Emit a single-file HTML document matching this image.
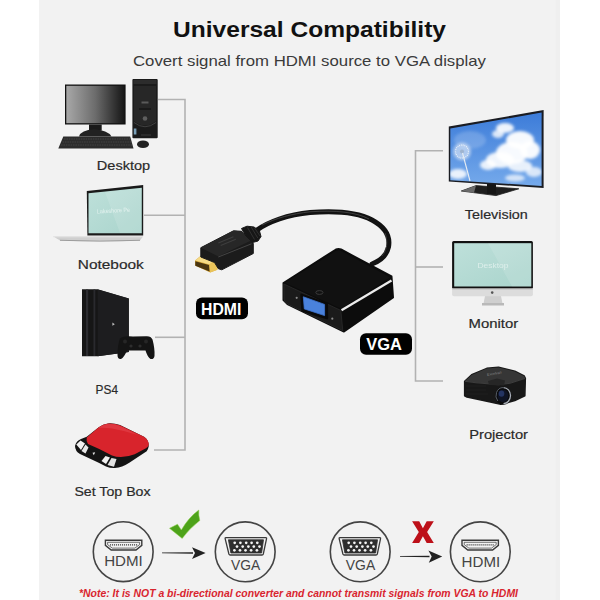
<!DOCTYPE html>
<html><head><meta charset="utf-8">
<style>
html,body{margin:0;padding:0;background:#fff;width:600px;height:600px;overflow:hidden}
svg{display:block}
text{font-family:"Liberation Sans",sans-serif}
</style></head>
<body>
<svg width="600" height="600" viewBox="0 0 600 600">
<defs>
  <linearGradient id="monG" x1="0" y1="0" x2="1" y2="0">
    <stop offset="0" stop-color="#a8a8a8"/><stop offset="0.5" stop-color="#6c6c6c"/><stop offset="1" stop-color="#161616"/>
  </linearGradient>
  <linearGradient id="skyG" x1="0" y1="0" x2="0" y2="1">
    <stop offset="0" stop-color="#3a7ad8"/><stop offset="1" stop-color="#78acec"/>
  </linearGradient>
  <linearGradient id="tealG" x1="0" y1="0" x2="1" y2="1">
    <stop offset="0" stop-color="#bee0da"/><stop offset="1" stop-color="#a9d4cc"/>
  </linearGradient>
  <filter id="blur1" x="-30%" y="-30%" width="160%" height="160%"><feGaussianBlur stdDeviation="1.8"/></filter>
</defs>
<rect x="0" y="0" width="600" height="600" fill="#fff"/>
<rect x="39" y="0" width="521" height="600" fill="#f2f2f2"/>
<rect x="555.5" y="0" width="4.5" height="600" fill="#efefef"/>

<!-- Title -->
<text x="173" y="37.3" font-size="22.6" font-weight="bold" fill="#111" textLength="273" lengthAdjust="spacingAndGlyphs">Universal Compatibility</text>
<text x="133" y="66" font-size="14.5" fill="#3a3a3a" textLength="353" lengthAdjust="spacingAndGlyphs">Covert signal from HDMI source to VGA display</text>

<!-- connector lines -->
<g stroke="#b2b2b2" stroke-width="1.6" fill="none">
  <path d="M158 99.5H185V450H154"/>
  <path d="M144 215.3H185"/>
  <path d="M155 337.3H185"/>
  <path d="M443 150.8H415.5V381H443"/>
  <path d="M415.5 267H443"/>
</g>

<!-- Desktop -->
<g>
  <rect x="65" y="84.5" width="60.6" height="40" fill="#111"/>
  <rect x="66.3" y="85.8" width="58" height="37.4" fill="url(#monG)"/>
  <rect x="89" y="124.5" width="12.7" height="6" fill="#1a1a1a"/>
  <path d="M79 136.5Q81 130 94 129.3Q107.5 130 111.5 136.5Z" fill="#222"/>
  <path d="M63.3 136.4H130.2L133.5 148.4H58.3Z" fill="#2c2c2c"/>
  <path d="M64 139H130.5M62.5 142H131.5M61 145H132.4" stroke="#4a4a4a" stroke-width="0.8" stroke-dasharray="1.6 0.8"/>
  <rect x="132.4" y="79" width="25.3" height="59.3" rx="1" fill="#1b1b1b"/>
  <rect x="133.5" y="80" width="23" height="4" fill="#2c2c2c"/>
  <path d="M134 86H156V121Q145 130 134 121Z" fill="#272727"/>
  <rect x="141.5" y="101.5" width="7" height="2" fill="#5a5a5a"/>
  <rect x="139" y="108" width="12" height="2" fill="#1a1a1a"/>
  <circle cx="145" cy="118.5" r="2.3" fill="#5e5e5e"/>
  <path d="M134 122.5Q145 131 156 122.5" stroke="#4a4a4a" stroke-width="0.8" fill="none"/>
  <rect x="133.8" y="128.5" width="2.6" height="6" fill="#7aa0b8"/>
  <rect x="141" y="134.5" width="10" height="1" fill="#3a3a3a"/>
  <ellipse cx="143" cy="144.3" rx="6" ry="3.8" fill="#222"/>
</g>

<!-- Notebook -->
<g>
  <path d="M86.8 191L143.2 185.1V235.6H87.4Z" fill="#1a1a1a"/>
  <path d="M88.5 193.2L141.8 187.7V233.2H88.5Z" fill="url(#tealG)"/>
  <path d="M105 192L120 232.9H141.2V188.2Z" fill="#fff" opacity="0.12"/>
  <text x="97" y="213.5" font-size="6" fill="#f2faf8" opacity="0.75" textLength="33" lengthAdjust="spacingAndGlyphs" transform="rotate(-3 97 213)">Lakeshore Pe</text>
  <path d="M53 236.3H143L140 240.5Q100 242.2 60 240.5Z" fill="#cfcfcf"/>
  <path d="M53 236.3H143V237.3H53Z" fill="#e6e6e6"/>
  <path d="M60 240.3Q100 242 140 240.3" stroke="#8e8e8e" stroke-width="0.8" fill="none"/>
</g>

<!-- PS4 -->
<g>
  <path d="M82 289.2H97.7L128.8 298.5V352L97.7 356.3H82Z" fill="#161616"/>
  <path d="M97.7 289.4L128.8 298.5V352L97.7 356.3Z" fill="#1d1d1f"/>
  <rect x="86" y="289.5" width="2.2" height="66.5" fill="#2c2c30"/>
  <rect x="93.5" y="289.5" width="1.8" height="66.5" fill="#2a2a2e"/>
  <path d="M112.4 322.5L114.8 324.2L112.4 325.8Z" fill="#bbb"/>
  <path d="M120 338.5Q124 335.5 133 336.5L146 336.2Q151 335.8 152.5 339.5Q155 349 154.5 356Q154 359.6 150.5 359Q147.5 357 145.5 350.5H127Q124 357.5 121 359Q117.5 359.5 117.5 355Q117.5 345 120 338.5Z" fill="#141414"/>
  <circle cx="125" cy="341.5" r="2" fill="#262626"/>
  <circle cx="146" cy="341.5" r="2" fill="#262626"/>
  <circle cx="131" cy="346" r="1.6" fill="#2d2d2d"/>
  <circle cx="140" cy="346" r="1.6" fill="#2d2d2d"/>
</g>

<!-- Set top box -->
<g>
  <path d="M75 446Q76 441 81 439L86.7 436.7L98.7 427.3Q103 424 108 423.4Q114 423 120 425L144 436.7Q149 440 148.7 446.5Q148 450 146.7 451.3L129.3 462.7Q122 467.5 115 468Q110 468.2 106 466.5L98.7 462.7L80 454Q75 451 75 446Z" fill="#141414"/>
  <path d="M86.7 437.5L98.7 427.3Q103 424 108 423.5Q114 423 120 425.2L144 436.8Q149 440 148.7 445Q148.2 447 146 448.3L134.7 454.3Q128 457 121 457Q116 457 112 455.5L98.7 448.7L88 444Q86 441 86.7 437.5Z" fill="#d8242c"/>
  <path d="M98 428Q104 424 110 424Q116 424 122 427L138 435Q126 431 112 428.5Q104 427.5 98 428Z" fill="#e85058" opacity="0.45"/>
  <path d="M76.3 444.5L80.5 440.5L85 443.5L81 450Z" fill="#f2f2f2"/>
  <path d="M81.5 451L85.5 444.5L88.5 447.5L85.5 453.5Z" fill="#e8e8e8"/>
  <path d="M101.5 461L105.5 456L110 457.5L106 464Z" fill="#f2f2f2"/>
  <path d="M107.5 465L111.5 458L116.5 459L114 466.8Z" fill="#e2e2e2"/>
  <path d="M92.5 452.8L95.2 452.3L93.8 455.3Z" fill="#e0e0e0"/>
</g>

<!-- cable -->
<path d="M257 230C268 222 288 214.5 310 212.5C335 210.5 358 212.5 372 220C385 227 390.5 236 388.5 247C386.5 256 380 261 372 264" stroke="#121212" stroke-width="5" fill="none" stroke-linecap="round"/>
<path d="M262 225C276 218 292 213.8 310 211.8C335 210 356 212 369 219" stroke="#5a5a5a" stroke-width="0.8" fill="none" opacity="0.8"/>
<path d="M385 233C388 240 387.5 250 382 256" stroke="#5a5a5a" stroke-width="0.7" fill="none" opacity="0.7"/>
<!-- HDMI connector -->
<g stroke-linejoin="round">
  <path d="M195 260.5L200.8 255.8L214.8 260.2L217.4 264L217.4 269.8L210.2 272.4L195 265.4Z" fill="#d8a83a"/>
  <path d="M195.2 260.5L200.8 256L214.8 260.3L209.5 264.5Z" fill="#f5da86"/>
  <path d="M195.3 261.3L209 265L209.5 271.5L195.3 265.8Z" fill="#4a3510"/>
  <path d="M209.5 264.5L214.8 260.3L217.4 264L217.4 269.8L210.2 272.4Z" fill="#eac45a"/>
  <path d="M200.8 247.7L233.5 230.8L241.7 231.3L244 233.7L251 240L253.3 243.5L253.3 253.5L221.8 269.8L218.3 268.7L214.5 262.5L200.8 257Z" fill="#1b1b1b" stroke="#1b1b1b" stroke-width="1"/>
  <path d="M200.8 247.7L233.5 230.8L241.7 231.3L244 233.7L251 240.5L218.3 256.5Z" fill="#272727"/>
  <path d="M218.3 257L251.5 243.8" stroke="#4a4a4a" stroke-width="0.9"/>
  <path d="M218.3 243L233.5 236.8M220.7 245.6L235.8 239.3" stroke="#3e3e3e" stroke-width="1.1"/>
  <path d="M241.5 228.5L247 226.2L254 227L259.5 231L261 236.5L258 241L252.5 242.5L246 236Z" fill="#161616" stroke="#161616" stroke-width="1"/>
  <path d="M247.5 227.5L254.5 239.5M251 226.8L257.8 238M254.3 227.6L260 236" stroke="#383838" stroke-width="0.8"/>
</g>
<!-- VGA adapter -->
<g stroke-linejoin="round">
  <path d="M283.5 283L336 249.5Q338.5 248.3 341 249.5L391.5 276.5L393 297.5L344 331.5L287.5 304L283.5 300Z" fill="#0c0c0c" stroke="#0c0c0c" stroke-width="2"/>
  <path d="M285 282.8L336 250.8Q338.5 249.6 341 250.8L390 277.3L341.2 308.8Z" fill="#111"/>
  <path d="M341.5 310.3L391.5 280.6" stroke="#ececec" stroke-width="2.3"/>
  <path d="M283.8 284L340.8 310.4L342.8 330.6L288 304.3Q284.3 302.5 284 299Z" fill="#1b1b1b" stroke="#2b2b2b" stroke-width="0.8"/>
  <path d="M301.5 294.8L326.8 303.8L327 318.2L302.5 310.5Z" fill="#0a0a0a" stroke="#0a0a0a" stroke-width="2.4"/>
  <path d="M303.3 296.8L324.6 304.4L324.6 315.6L304.3 308.9Z" fill="#4a82dc" stroke="#3d73cf" stroke-width="0.8"/>
  <circle cx="296.7" cy="297.8" r="1.1" fill="#8a8a8a"/>
  <circle cx="332.3" cy="318.7" r="1.1" fill="#8a8a8a"/>
  <ellipse cx="319.4" cy="292.5" rx="3.6" ry="1.9" fill="none" stroke="#3a3a3a" stroke-width="1"/>
</g>

<!-- Television -->
<g>
  <path d="M461.3 191L476 185.6L518.8 188.8L496 195.6Z" fill="#1e1e1e" stroke="#1e1e1e" stroke-width="0.8" stroke-linejoin="round"/>
  <path d="M461.3 191L476 185.6L474 192.8Z" fill="#8a8a8a" opacity="0.7"/>
  <rect x="487" y="184" width="9" height="10" fill="#151515"/>
  <path d="M448.8 126.6L543.6 110.1V188L448.8 181.6Z" fill="#1a1c22"/>
  <clipPath id="tvclip"><path d="M450.3 128.5L541.6 112.6V186L450.3 180.2Z"/></clipPath>
  <g clip-path="url(#tvclip)">
    <rect x="448" y="110" width="96" height="80" fill="url(#skyG)"/>
    <g filter="url(#blur1)" fill="#fff">
      <ellipse cx="505" cy="128" rx="9" ry="5" opacity="0.9"/>
      <ellipse cx="498" cy="134" rx="6" ry="4" opacity="0.8"/>
      <ellipse cx="520" cy="140" rx="14" ry="9" opacity="0.95"/>
      <ellipse cx="530" cy="150" rx="10" ry="9" opacity="0.95"/>
      <ellipse cx="512" cy="153" rx="16" ry="11" opacity="0.95"/>
      <ellipse cx="500" cy="160" rx="14" ry="8" opacity="0.9"/>
      <ellipse cx="488" cy="165" rx="8" ry="5" opacity="0.85"/>
      <ellipse cx="520" cy="166" rx="12" ry="6" opacity="0.85"/>
      <ellipse cx="534" cy="172" rx="8" ry="5" opacity="0.75"/>
      <ellipse cx="515" cy="178" rx="10" ry="3.5" opacity="0.7"/>
      <ellipse cx="458" cy="174" rx="9" ry="5" opacity="0.85"/>
      <ellipse cx="470" cy="140" rx="16" ry="9" opacity="0.18"/>
    </g>
    <circle cx="462" cy="151.5" r="9" fill="#e6edf7" opacity="0.6" filter="url(#blur1)"/>
    <circle cx="462" cy="151.5" r="6.5" fill="none" stroke="#ffffff" stroke-width="1.2" stroke-dasharray="0.8 1" opacity="0.8"/>
    <circle cx="462" cy="151.5" r="2" fill="#9fb4cf"/>
    <path d="M462.5 153L470 181" stroke="#e8edf2" stroke-width="1.1"/>
  </g>
</g>

<!-- Monitor (iMac) -->
<g>
  <path d="M485 296H501L502.5 303.5H483.5Z" fill="#cfcfcf"/>
  <path d="M482 303H504V305.5H482Z" fill="#b9b9b9"/>
  <rect x="452.1" y="241" width="80.8" height="48" rx="1.5" fill="#111"/>
  <rect x="454.2" y="243.2" width="77.1" height="43.3" fill="url(#tealG)"/>
  <path d="M488 243.2H531.3V286.5H512Z" fill="#fff" opacity="0.12"/>
  <path d="M452.1 288.5H532.9V294.5Q532.9 296.3 531 296.3H454Q452.1 296.3 452.1 294.5Z" fill="#dcdcdc"/>
  <path d="M452.1 288.5H532.9V289.5H452.1Z" fill="#bdbdbd"/>
  <circle cx="492.2" cy="292.6" r="1.3" fill="#555"/>
  <text x="477.5" y="267.5" font-size="7.5" fill="#eef7f5" opacity="0.7" textLength="31" lengthAdjust="spacingAndGlyphs">Desktop</text>
</g>

<!-- Projector -->
<g stroke-linejoin="round">
  <path d="M464.7 381.3L471.7 374.8L486.8 368.4L498.5 367.3L514.8 371.3L524.2 376L525.3 378.3L524.8 395.8L514.8 400.5L500.8 404.3L489.2 401.7L467 397L464.7 395.8Z" fill="#181818" stroke="#181818" stroke-width="1.6"/>
  <path d="M465 381L471.7 375L486.8 368.6L498.5 367.5L514.8 371.5L524.2 376.2L525 378.3L510 383L498 384.5L488 383.5L476 382.5Z" fill="#363636"/>
  <path d="M465 381.3L476 382.8L488 383.8L498 384.8L510 383.3L525 378.5" stroke="#4a4a4a" stroke-width="0.7" fill="none"/>
  <path d="M488 381L497 378.5L505 380.5L504 385.5L489 385Z" fill="#262626"/>
  <path d="M466 386H486M466 390H486M466 394H488" stroke="#222" stroke-width="0.8"/>
  <ellipse cx="503.2" cy="395.8" rx="8" ry="9" fill="#0b0b0b"/>
  <path d="M503.5 387.6A7 8 0 0 1 503.5 403.6" stroke="#a8aeb8" stroke-width="1.3" fill="none"/>
  <path d="M503 387.6A7 8 0 0 0 497.8 401" stroke="#5a606a" stroke-width="1" fill="none"/>
  <ellipse cx="503" cy="395.8" rx="5.4" ry="6.4" fill="#0f1424"/>
  <ellipse cx="501.5" cy="393.6" rx="2.8" ry="3.2" fill="#324a8c" opacity="0.6"/>
  <text x="487" y="375.3" font-size="3.6" fill="#8a8a8a" transform="rotate(-10 491 374)">Excelvan</text>
</g>

<!-- labels -->
<g font-size="13.6" fill="#2a2a2a" stroke="#2a2a2a" stroke-width="0.2">
  <text x="96.8" y="170" textLength="53.4" lengthAdjust="spacingAndGlyphs">Desktop</text>
  <text x="77.8" y="269" textLength="66" lengthAdjust="spacingAndGlyphs">Notebook</text>
  <text x="95.6" y="393.7" textLength="22.4" lengthAdjust="spacingAndGlyphs">PS4</text>
  <text x="74.4" y="496" textLength="76.2" lengthAdjust="spacingAndGlyphs">Set Top Box</text>
  <text x="464.8" y="219.3" textLength="63" lengthAdjust="spacingAndGlyphs">Television</text>
  <text x="468.6" y="328.2" textLength="49.6" lengthAdjust="spacingAndGlyphs">Monitor</text>
  <text x="469.2" y="439" textLength="58.8" lengthAdjust="spacingAndGlyphs">Projector</text>
</g>

<!-- HDMI / VGA labels -->
<rect x="196" y="297.6" width="52" height="21.6" rx="6" fill="#000"/>
<text x="201" y="315" font-size="16.5" font-weight="bold" fill="#fff" textLength="40.3" lengthAdjust="spacingAndGlyphs">HDMI</text>
<rect x="360" y="333.2" width="52" height="21.6" rx="6" fill="#000"/>
<text x="366.3" y="349.5" font-size="16.5" font-weight="bold" fill="#fff" textLength="35.7" lengthAdjust="spacingAndGlyphs">VGA</text>

<!-- bottom circles -->
<g stroke="#444" stroke-width="1.6" fill="none">
  <circle cx="123.2" cy="551.7" r="29.9"/>
  <circle cx="245.2" cy="551.8" r="29.9"/>
  <circle cx="360.2" cy="551.8" r="29.9"/>
  <circle cx="480.3" cy="551.8" r="29.9"/>
</g>
<g font-size="15.2" fill="#444">
  <text x="104.2" y="566" textLength="38.6" lengthAdjust="spacingAndGlyphs">HDMI</text>
  <text x="231" y="570.2" textLength="29.2" lengthAdjust="spacingAndGlyphs">VGA</text>
  <text x="345.8" y="570.2" textLength="29.4" lengthAdjust="spacingAndGlyphs">VGA</text>
  <text x="461.6" y="567.4" textLength="38.6" lengthAdjust="spacingAndGlyphs">HDMI</text>
</g>

<!-- HDMI port icons -->
<g fill="none" stroke="#3a3a3a" transform="translate(0 0.4)">
  <path d="M105.4 539.8H141.8V545L136 549.6H111.2L105.4 545Z" stroke-width="1.4"/>
  <path d="M107.6 541.9H139.6V544.2L134.9 547.7H112.3L107.6 544.2Z" stroke-width="0.7"/>
  <path d="M110 544.4H137.2" stroke-width="1.3" stroke-dasharray="1.1 0.9"/>
</g>
<g fill="none" stroke="#3a3a3a" transform="translate(356.6 0.4)">
  <path d="M105.4 539.8H141.8V545L136 549.6H111.2L105.4 545Z" stroke-width="1.4"/>
  <path d="M107.6 541.9H139.6V544.2L134.9 547.7H112.3L107.6 544.2Z" stroke-width="0.7"/>
  <path d="M110 544.4H137.2" stroke-width="1.3" stroke-dasharray="1.1 0.9"/>
</g>
<!-- VGA port icons -->
<g>
  <path d="M225.8 537.6H265.8Q266.8 537.6 266.5 538.8L263.3 554Q263 555 262 555H230.2Q229.2 555 228.9 554L225.2 538.8Q225 537.6 225.8 537.6Z" fill="none" stroke="#3a3a3a" stroke-width="1.3"/>
  <path d="M228.4 539.8H263.5L261.6 553H230.9Z" fill="#2e2e2e" stroke="#2e2e2e" stroke-width="0.8" stroke-linejoin="round"/>
  <g fill="#f4f4f4">
    <circle cx="234.7" cy="542.8" r="1.35"/><circle cx="240.4" cy="542.8" r="1.35"/><circle cx="246.2" cy="542.8" r="1.35"/><circle cx="251.6" cy="542.8" r="1.35"/><circle cx="257.3" cy="542.8" r="1.35"/>
    <circle cx="237" cy="546.6" r="1.35"/><circle cx="242.7" cy="546.6" r="1.35"/><circle cx="248.4" cy="546.6" r="1.35"/><circle cx="253.8" cy="546.6" r="1.35"/><circle cx="259.5" cy="546.6" r="1.35"/>
    <circle cx="234.4" cy="550.3" r="1.35"/><circle cx="240" cy="550.3" r="1.35"/><circle cx="245.5" cy="550.3" r="1.35"/><circle cx="251.1" cy="550.3" r="1.35"/><circle cx="256.9" cy="550.3" r="1.35"/>
  </g>
</g>
<g transform="translate(114 0)">
  <path d="M225.8 537.6H265.8Q266.8 537.6 266.5 538.8L263.3 554Q263 555 262 555H230.2Q229.2 555 228.9 554L225.2 538.8Q225 537.6 225.8 537.6Z" fill="none" stroke="#3a3a3a" stroke-width="1.3"/>
  <path d="M228.4 539.8H263.5L261.6 553H230.9Z" fill="#2e2e2e" stroke="#2e2e2e" stroke-width="0.8" stroke-linejoin="round"/>
  <g fill="#f4f4f4">
    <circle cx="234.7" cy="542.8" r="1.35"/><circle cx="240.4" cy="542.8" r="1.35"/><circle cx="246.2" cy="542.8" r="1.35"/><circle cx="251.6" cy="542.8" r="1.35"/><circle cx="257.3" cy="542.8" r="1.35"/>
    <circle cx="237" cy="546.6" r="1.35"/><circle cx="242.7" cy="546.6" r="1.35"/><circle cx="248.4" cy="546.6" r="1.35"/><circle cx="253.8" cy="546.6" r="1.35"/><circle cx="259.5" cy="546.6" r="1.35"/>
    <circle cx="234.4" cy="550.3" r="1.35"/><circle cx="240" cy="550.3" r="1.35"/><circle cx="245.5" cy="550.3" r="1.35"/><circle cx="251.1" cy="550.3" r="1.35"/><circle cx="256.9" cy="550.3" r="1.35"/>
  </g>
</g>
<!-- check -->
<path d="M169.5 528.3L177.5 524.2L181.3 530Q189 517 198.8 510Q198.3 515 199.8 520.6Q190 528 182.2 538.4Z" fill="#4da31a" stroke="#8fd14a" stroke-width="0.5" stroke-linejoin="round"/>
<!-- red X -->
<path d="M412.1 521.2H419.2L422.9 528.3L426.7 521.2H433.8L427.1 532.1L433.8 542.9H426.7L422.9 536.2L419.2 542.9H412.1L418.8 532.1Z" fill="#bd1019"/>
<!-- arrows -->
<g fill="#222">
  <path d="M162 552.5L193 552.2V553.8L162 553.2Z"/>
  <path d="M192 547.3L205.6 553L192 559L195 553Z"/>
  <path d="M400 556L429.5 555.7V557.3L400 556.8Z"/>
  <path d="M428.4 550.6L442.2 556.6L428.8 562.8L431.7 556.5Z"/>
</g>

<!-- note -->
<text x="79" y="597" font-size="10.2" font-weight="bold" font-style="italic" fill="#d9252f" textLength="439" lengthAdjust="spacingAndGlyphs">*Note: It is NOT a bi-directional converter and cannot transmit signals from VGA to HDMI</text>

</svg>
</body></html>
